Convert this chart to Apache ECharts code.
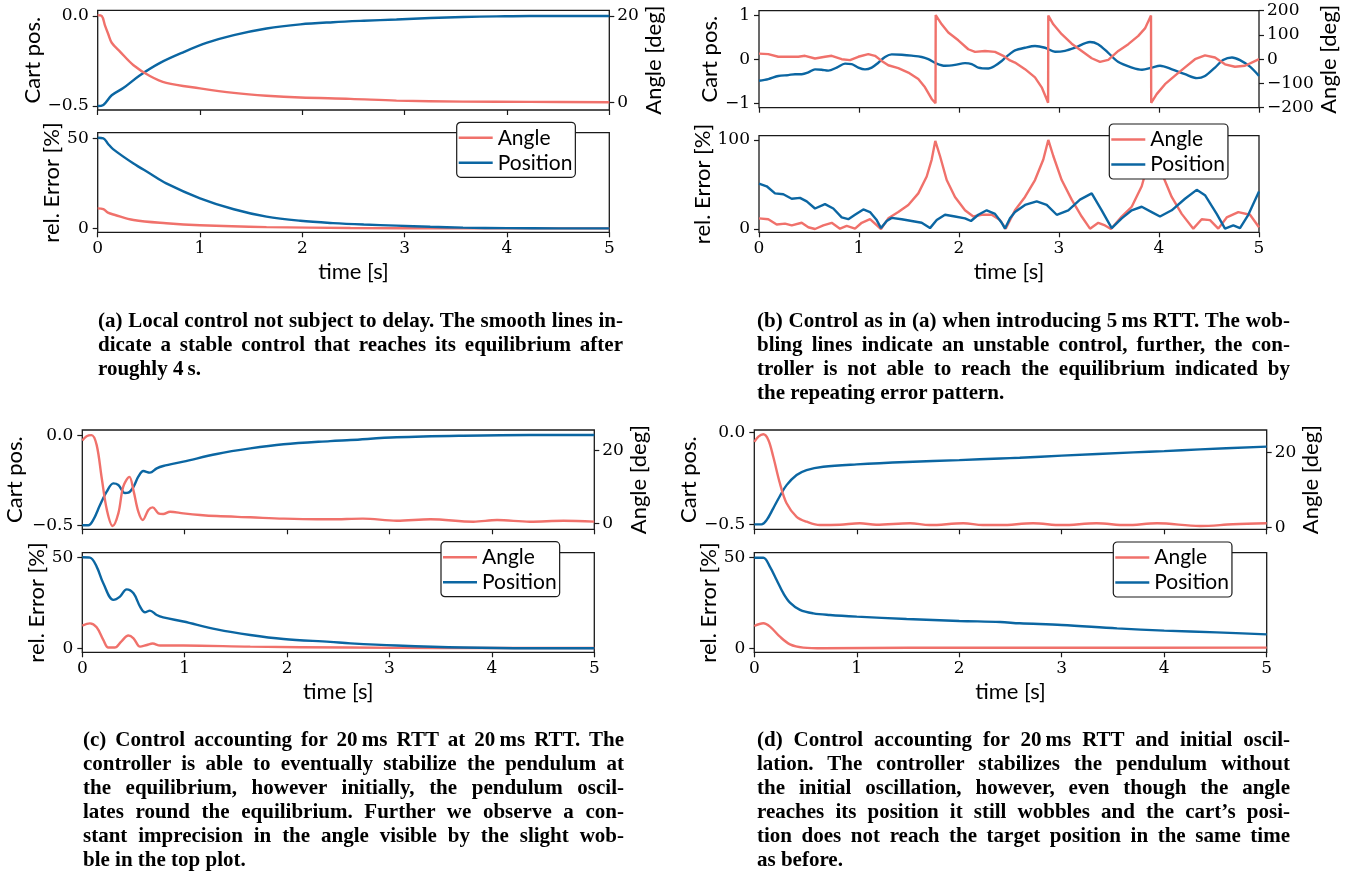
<!DOCTYPE html>
<html><head><meta charset="utf-8">
<script src="https://cdn.jsdelivr.net/npm/echarts@6/dist/echarts.min.js"></script>
<style>
html,body{margin:0;padding:0;background:#fff;}
#chart{position:absolute;left:0;top:0;width:1353px;height:894px;}
.cap{position:absolute;font-family:"Liberation Serif","DejaVu Serif",serif;font-weight:bold;font-size:21px;line-height:24px;color:#000;}
.cap div{text-align:justify;text-align-last:justify;white-space:nowrap;}
.cap div.last{text-align-last:left;}
</style>
</head><body>
<div id="chart"></div>
<script>
// ---------- DATA ----------
const timeTicks=[0,1,2,3,4,5];
// (a) local control, no delay
const aCartT=[0,0.055,0.137,0.25,0.41,0.61,0.84,1.07,1.33,1.65,1.98,2.3,2.6,2.92,3.25,3.57,3.9,4.22,4.6,5.0];
const aCart=[-0.5,-0.494,-0.44,-0.40,-0.33,-0.26,-0.20,-0.148,-0.106,-0.069,-0.046,-0.034,-0.026,-0.019,-0.011,-0.005,-0.002,0,0,0];
const aAngT=[0,0.04,0.07,0.1,0.137,0.22,0.35,0.51,0.67,1.0,1.33,1.65,1.98,2.47,2.92,3.57,4.22,5.0];
const aAng=[20.2,20.0,17.9,16.0,13.8,11.7,8.6,6.1,4.5,3.24,2.2,1.53,1.1,0.8,0.4,0.15,0.1,0.0];
const aErrPosT=[0,0.055,0.1,0.15,0.35,0.51,0.67,1.0,1.33,1.65,1.98,2.3,2.6,2.92,3.25,3.57,4.0,4.5,5.0];
const aErrPos=[50.3,50,47,44,36,30.5,25,16.7,10.6,6.5,4.2,2.9,2.1,1.5,0.9,0.4,0.1,0,0];
const aErrAngT=[0,0.055,0.1,0.17,0.35,0.67,1.0,1.65,2.47,3.5,5.0];
const aErrAng=[11.1,10.7,8.7,7.4,4.6,2.8,1.7,0.7,0.2,0,0];
// (b) 5 ms RTT
const bCartT=[0,0.093,0.193,0.293,0.36,0.427,0.493,0.56,0.627,0.693,0.777,0.86,0.927,0.993,1.06,1.127,1.193,1.26,1.327,1.427,1.527,1.627,1.693,1.777,1.86,1.96,2.06,2.127,2.193,2.293,2.36,2.427,2.46,2.51,2.56,2.66,2.76,2.86,2.96,3.06,3.16,3.31,3.39,3.49,3.59,3.73,3.83,3.93,4.01,4.13,4.26,4.38,4.46,4.56,4.64,4.73,4.81,4.91,5.0];
const bCart=[-0.49,-0.45,-0.38,-0.36,-0.34,-0.34,-0.30,-0.23,-0.24,-0.26,-0.19,-0.10,-0.11,-0.19,-0.23,-0.19,-0.08,0.05,0.11,0.10,0.08,0.05,0,-0.10,-0.15,-0.13,-0.09,-0.11,-0.19,-0.21,-0.15,-0.04,0.03,0.12,0.20,0.26,0.30,0.26,0.17,0.19,0.26,0.39,0.34,0.15,-0.06,-0.19,-0.24,-0.19,-0.15,-0.23,-0.34,-0.43,-0.38,-0.19,-0.02,0.04,-0.02,-0.17,-0.38];
const bAngT=[0,0.093,0.193,0.293,0.393,0.46,0.56,0.66,0.727,0.827,0.91,0.993,1.093,1.16,1.227,1.293,1.393,1.493,1.593,1.66,1.727,1.765,1.767,1.827,1.893,1.993,2.093,2.16,2.26,2.36,2.443,2.51,2.56,2.66,2.76,2.827,2.877,2.891,2.893,2.943,3.027,3.127,3.227,3.327,3.41,3.493,3.593,3.693,3.793,3.86,3.92,3.922,3.977,4.06,4.16,4.26,4.36,4.46,4.56,4.66,4.76,4.86,4.943,5.0];
const bAng=[23,21,10,10,10,14,3,10,14,0,-4,10,21,14,-7,-25,-37,-55,-82,-116,-164,-182,182,144,110,78,41,30,34,30,14,-5,-14,-41,-75,-116,-165,-180,180,144,103,64,34,4,-11,-3,34,62,96,127,180,-180,-144,-103,-68,-34,0,16,7,-21,-31,-27,-11,0];
const bErrPosT=[0,0.077,0.16,0.243,0.327,0.41,0.477,0.56,0.66,0.743,0.827,0.893,0.96,1.043,1.11,1.177,1.22,1.277,1.327,1.427,1.527,1.627,1.71,1.777,1.86,1.96,2.06,2.12,2.193,2.277,2.36,2.427,2.46,2.51,2.56,2.66,2.777,2.877,2.977,3.093,3.21,3.327,3.427,3.527,3.627,3.727,3.827,3.927,4.01,4.127,4.26,4.377,4.46,4.577,4.66,4.743,4.81,4.893,5.0];
const bErrPos=[51,48,40,39,34,35,31,23,28,23,13,11,16,22,19,10,1,9,12.5,11,9,7,1,10,16,14,12,9,16,21,17,7,0.5,12,19,27,31,27,16,21,33,40,21,1,12,21,25,19,14,21,34,44,38,17,0.4,4,1,16,42];
const bErrAngT=[0,0.093,0.177,0.26,0.327,0.427,0.493,0.56,0.643,0.727,0.81,0.877,0.96,1.027,1.11,1.22,1.293,1.393,1.493,1.593,1.677,1.727,1.763,1.81,1.877,1.96,2.06,2.143,2.227,2.327,2.41,2.467,2.51,2.56,2.66,2.76,2.843,2.893,2.943,3.027,3.127,3.227,3.31,3.393,3.46,3.52,3.627,3.727,3.827,3.877,3.927,4.027,4.127,4.227,4.343,4.427,4.51,4.593,4.677,4.793,4.91,5.0];
const bErrAng=[12,11,5,6,4,7,2,0,4,7,0.4,3.4,0.4,7,11,0,12,19,27,40,59,78,99,82,55,36,21,14,16,16,10,0.3,10,21,36,55,78,100,82,55,33,14,0.4,7,4,0,14,25,48,68,100,63,36,17,0.4,11,10,0.4,13,19,16,2];
// (c) 20 ms RTT compensated
const cCartT=[0,0.059,0.107,0.173,0.238,0.303,0.352,0.417,0.45,0.5,0.547,0.596,0.66,0.727,0.79,0.987,1.313,1.64,1.965,2.42,2.62,3.07,3.72,4.37,5.0];
const cCart=[-0.5,-0.5,-0.47,-0.387,-0.3125,-0.266,-0.275,-0.32,-0.318,-0.285,-0.229,-0.197,-0.206,-0.182,-0.169,-0.145,-0.102,-0.071,-0.048,-0.03,-0.024,-0.009,0,0.004,0.004];
const cAngT=[0,0.042,0.09,0.14,0.19,0.24,0.296,0.352,0.4,0.46,0.5,0.547,0.59,0.645,0.687,0.743,0.79,0.857,0.987,1.15,1.313,1.64,1.965,2.29,2.42,2.74,3.07,3.4,3.82,4.05,4.37,4.7,5.0];
const cAng=[22.8,24.0,24.3,21.6,12.4,3.7,-0.74,2.75,10.1,12.8,9.0,3.2,0.9,3.66,4.4,2.75,2.56,3.2,2.75,2.3,2.0,1.65,1.28,1.1,1.1,1.3,0.7,1.1,0.45,0.9,0.45,0.7,0.45];
const cErrPosT=[0,0.075,0.14,0.205,0.303,0.368,0.433,0.5,0.564,0.612,0.66,0.727,0.79,0.987,1.313,1.64,1.965,2.42,2.62,3.07,3.72,4.37,5.0];
const cErrPos=[50,49.8,44.9,35.7,26.6,28.4,32.4,30.2,22.9,19.8,20.7,18.3,17,14.7,10.4,7.3,5.1,3.5,2.7,1.5,0.4,0,0];
const cErrAngT=[0,0.075,0.14,0.205,0.254,0.317,0.38,0.45,0.5,0.564,0.63,0.687,0.76,0.987,1.64,2.62,3.5,5.0];
const cErrAng=[12.5,13.7,11.5,4.6,0.4,0.4,3.7,7,5.5,0.9,1.8,2.6,1.5,1.5,0.9,0.4,0.2,0.2];
// (d) 20 ms RTT + initial oscillation
const dCartT=[0,0.07,0.12,0.185,0.25,0.315,0.413,0.51,0.673,1.0,1.486,2.0,2.4,2.59,3.0,3.7,4.0,4.35,5.0];
const dCart=[-0.5,-0.5,-0.477,-0.413,-0.346,-0.287,-0.232,-0.205,-0.187,-0.174,-0.161,-0.151,-0.142,-0.138,-0.127,-0.109,-0.102,-0.093,-0.078];
const dAngT=[0,0.04,0.088,0.137,0.185,0.25,0.315,0.413,0.51,0.64,0.836,1.03,1.19,1.52,1.71,2.04,2.23,2.4,2.72,3.0,3.34,3.63,3.93,4.35,4.67,5.0];
const dAng=[22.8,24.2,24.8,23.3,18.8,11.7,6.4,2.8,1.5,0.6,0.7,1.07,0.7,1.07,0.6,1.07,0.6,0.6,1.07,0.6,1.07,0.6,1.07,0.36,0.8,1.07];
const dErrPosT=[0,0.088,0.153,0.218,0.283,0.348,0.446,0.576,0.738,1.0,1.486,2.0,2.4,2.59,3.0,3.54,4.0,4.51,5.0];
const dErrPos=[50,50,45,37.7,30.4,25.2,21.2,19.3,18.4,17.5,16.2,15.1,14.5,13.8,12.9,11,9.75,8.8,7.7];
const dErrAngT=[0,0.088,0.153,0.25,0.348,0.478,0.673,1.5,3.0,5.0];
const dErrAng=[12.3,13.8,12,6.4,2.2,0.4,0,0.3,0.3,0.4];
// tick labels
const cartTicks=[[-0.5,0],[-1,0,1],[-0.5,0],[-0.5,0]];
const cartDecimals=[1,0,1,1];
const angTicks=[[0,20],[-200,-100,0,100,200],[0,20],[0,20]];
const errTicks=[[0,50],[0,100],[0,50],[0,50]];
const seriesNames=['Angle','Position'];
// captions
const captions=[
 ["(a) Local control not subject to delay. The smooth lines in-","dicate a stable control that reaches its equilibrium after","roughly 4\u2009s."],
 ["(b) Control as in (a) when introducing 5\u2009ms RTT. The wob-","bling lines indicate an unstable control, further, the con-","troller is not able to reach the equilibrium indicated by","the repeating error pattern."],
 ["(c) Control accounting for 20\u2009ms RTT at 20\u2009ms RTT. The","controller is able to eventually stabilize the pendulum at","the equilibrium, however initially, the pendulum oscil-","lates round the equilibrium. Further we observe a con-","stant imprecision in the angle visible by the slight wob-","ble in the top plot."],
 ["(d) Control accounting for 20\u2009ms RTT and initial oscil-","lation. The controller stabilizes the pendulum without","the initial oscillation, however, even though the angle","reaches its position it still wobbles and the cart\u2019s posi-","tion does not reach the target position in the same time","as before."]
];

// ---------- LAYOUT / STYLE ----------
const RED='#f0716b', BLUE='#0b66a2', INK='#1a1a1a';
const SERIF='"DejaVu Serif", serif', SANS='Lato, "Open Sans", sans-serif';
const TICK_FS=17, NAME_FS=22, LEG_FS=21;
const layout=[
 {x:97.7,w:511.6,ty:10.3,th:99.7,by:132.7,bh:99.6,cart:[-0.522,0.032],ang:[-1.78,21.32],err:[-2.2,53.1],gC:54,gE:29,gA:30,leg:[456.7,122.3],smooth:[0.35,0.35,0.35]},
 {x:759,w:500,ty:10.7,th:97,by:135.7,bh:96.6,cart:[-1.1,1.1],ang:[-200,200],err:[-3.7,104.8],gC:38,gE:38,gA:55,leg:[1109.3,124],smooth:[0.3,false,false]},
 {x:82.3,w:512,ty:430,th:99.3,by:552.7,bh:99.6,cart:[-0.5223,0.0318],ang:[-1.65,25.7],err:[-2.2,52.53],gC:56,gE:29.6,gA:31.4,leg:[441,541.7],smooth:[0.35,0.35,0.35]},
 {x:754.3,w:512.4,ty:430,th:99.3,by:552.7,bh:99.6,cart:[-0.527,0.0125],ang:[-0.53,25.95],err:[-2.2,52.76],gC:51,gE:28,gA:30,leg:[1113.3,542],smooth:[0.35,0.35,0.35]}
];
const capPos=[{l:98,t:308,w:525},{l:757,t:308,w:533},{l:83,t:727,w:541},{l:757,t:727,w:533}];
const data=[
 {cT:aCartT,c:aCart,aT:aAngT,a:aAng,ePT:aErrPosT,eP:aErrPos,eAT:aErrAngT,eA:aErrAng},
 {cT:bCartT,c:bCart,aT:bAngT,a:bAng,ePT:bErrPosT,eP:bErrPos,eAT:bErrAngT,eA:bErrAng},
 {cT:cCartT,c:cCart,aT:cAngT,a:cAng,ePT:cErrPosT,eP:cErrPos,eAT:cErrAngT,eA:cErrAng},
 {cT:dCartT,c:dCart,aT:dAngT,a:dAng,ePT:dErrPosT,eP:dErrPos,eAT:dErrAngT,eA:dErrAng}
];
const pairs=(t,v)=>t.map((x,i)=>[x,v[i]]);
const minus=s=>s.replace('-','\u2212');

const grid=[],xAxis=[],yAxis=[],series=[],legend=[];
const tickStyle={show:true,inside:false,length:5,lineStyle:{color:INK,width:1.2}};
const noLine={show:false,onZero:false};
layout.forEach((L,p)=>{
  grid.push({left:L.x,top:L.ty,width:L.w,height:L.th,show:true,borderColor:INK,borderWidth:1.3,backgroundColor:'transparent'});
  grid.push({left:L.x,top:L.by,width:L.w,height:L.bh,show:true,borderColor:INK,borderWidth:1.3,backgroundColor:'transparent'});
  [0,1].forEach(k=>{
    xAxis.push({type:'value',gridIndex:2*p+k,position:'bottom',min:timeTicks[0],max:timeTicks[timeTicks.length-1],interval:1,
      axisLine:noLine,splitLine:{show:false},axisTick:tickStyle,
      axisLabel:{show:k===1,margin:8,fontFamily:SERIF,fontSize:TICK_FS,color:'#000'},
      name:k===1?'time [s]':'',nameLocation:'middle',nameGap:29,
      nameTextStyle:{fontFamily:SANS,fontSize:NAME_FS,color:'#000'}});
  });
  const dec=cartDecimals[p];
  yAxis.push({type:'value',gridIndex:2*p,position:'left',min:L.cart[0],max:L.cart[1],
    axisLine:noLine,splitLine:{show:false},
    axisTick:Object.assign({customValues:cartTicks[p]},tickStyle),
    axisLabel:{customValues:cartTicks[p],margin:9,fontFamily:SERIF,fontSize:TICK_FS,color:'#000',
      formatter:v=>minus(dec?Number(v).toFixed(dec):String(Math.round(v)))},
    name:'Cart pos.',nameLocation:'middle',nameRotate:90,nameGap:L.gC,
    nameTextStyle:{fontFamily:SANS,fontSize:NAME_FS,color:'#000'}});
  yAxis.push({type:'value',gridIndex:2*p,position:'right',min:L.ang[0],max:L.ang[1],
    axisLine:noLine,splitLine:{show:false},
    axisTick:Object.assign({customValues:angTicks[p]},tickStyle),
    axisLabel:{customValues:angTicks[p],margin:8,fontFamily:SERIF,fontSize:TICK_FS,color:'#000',
      formatter:v=>minus(String(Math.round(v)))},
    name:'Angle [deg]',nameLocation:'middle',nameRotate:90,nameGap:L.gA,
    nameTextStyle:{fontFamily:SANS,fontSize:NAME_FS,color:'#000'}});
  yAxis.push({type:'value',gridIndex:2*p+1,position:'left',min:L.err[0],max:L.err[1],
    axisLine:noLine,splitLine:{show:false},
    axisTick:Object.assign({customValues:errTicks[p]},tickStyle),
    axisLabel:{customValues:errTicks[p],margin:9,fontFamily:SERIF,fontSize:TICK_FS,color:'#000',
      formatter:v=>String(Math.round(v))},
    name:'rel. Error [%]',nameLocation:'middle',nameRotate:90,nameGap:L.gE,
    nameTextStyle:{fontFamily:SANS,fontSize:NAME_FS,color:'#000'}});
  const D=data[p];
  const base={type:'line',symbol:'none',showSymbol:false,animation:false,clip:true};
  series.push(Object.assign({},base,{name:seriesNames[1],smooth:L.smooth[0],xAxisIndex:2*p,yAxisIndex:3*p,data:pairs(D.cT,D.c),lineStyle:{color:BLUE,width:2.4},itemStyle:{color:BLUE},z:2}));
  series.push(Object.assign({},base,{name:seriesNames[0],smooth:L.smooth[1],xAxisIndex:2*p,yAxisIndex:3*p+1,data:pairs(D.aT,D.a),lineStyle:{color:RED,width:2.4},itemStyle:{color:RED},z:3}));
  series.push(Object.assign({},base,{name:seriesNames[0],smooth:L.smooth[2],xAxisIndex:2*p+1,yAxisIndex:3*p+2,data:pairs(D.eAT,D.eA),lineStyle:{color:RED,width:2.4},itemStyle:{color:RED},z:2}));
  series.push(Object.assign({},base,{name:seriesNames[1],smooth:L.smooth[2],xAxisIndex:2*p+1,yAxisIndex:3*p+2,data:pairs(D.ePT,D.eP),lineStyle:{color:BLUE,width:2.4},itemStyle:{color:BLUE},z:3}));
  legend.push({orient:'vertical',left:L.leg[0],top:L.leg[1],data:seriesNames,selectedMode:false,
    icon:'rect',itemWidth:34,itemHeight:2.6,itemGap:4,padding:[5,3,4,2],backgroundColor:'#fff',
    borderColor:INK,borderWidth:1.2,borderRadius:4,z:10,
    textStyle:{fontFamily:SANS,fontSize:LEG_FS,color:'#000',lineHeight:20}});
});

const chart=echarts.init(document.getElementById('chart'),null,{renderer:'canvas'});
chart.setOption({animation:false,backgroundColor:'#fff',grid,xAxis,yAxis,series,legend});

captions.forEach((lines,i)=>{
  const c=document.createElement('div');c.className='cap';
  c.style.left=capPos[i].l+'px';c.style.top=capPos[i].t+'px';c.style.width=capPos[i].w+'px';
  lines.forEach((s,j)=>{const d=document.createElement('div');d.textContent=s;if(j===lines.length-1)d.className='last';c.appendChild(d);});
  document.body.appendChild(c);
});
</script>
</body></html>
